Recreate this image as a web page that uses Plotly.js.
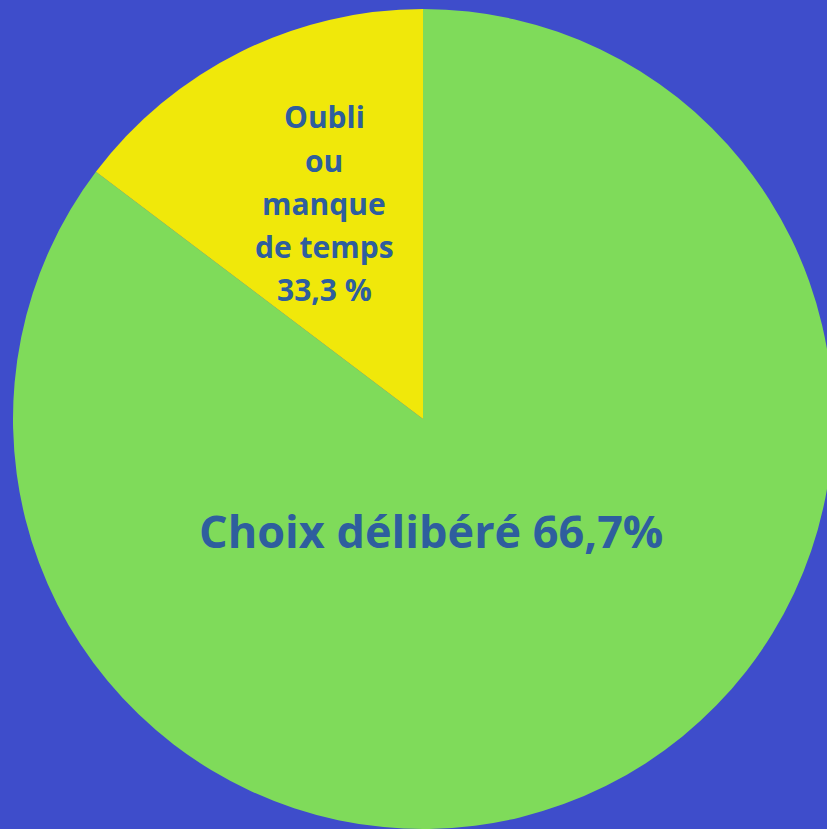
<!DOCTYPE html>
<html>
<head>
<meta charset="utf-8">
<script src="https://cdn.plot.ly/plotly-3.0.1.min.js"></script>
<style>
html, body { margin: 0; padding: 0; overflow: hidden; background: #3e4dcb; }
#chart { width: 846px; height: 840px; }
</style>
</head>
<body>
<div id="chart"></div>
<script>
// Categories and values (slice sizes; labels as printed)
const categories = ["Choix délibéré", "Oubli ou manque de temps"];
const sliceValues = [85.3, 14.7];
const sliceColors = ["#7fdb5a", "#f0e80a"];
const labelTexts = ["Choix délibéré 66,7%", "Oubli<br>ou<br>manque<br>de temps<br>33,3 %"];
const labelSizes = [45, 30];

const W = 846, H = 840;
const trace = {
  type: "pie",
  labels: categories,
  values: sliceValues,
  sort: false,
  direction: "clockwise",
  rotation: 0,
  marker: { colors: sliceColors, line: { width: 0 } },
  textinfo: "none",
  hoverinfo: "none",
  showlegend: false,
  domain: { x: [0, 1], y: [1 - 829 / H, 1 - 9 / H] }
};

// label anchor positions (px): centre x, first-line centre y, line step
const labelPos = [[431, 530, 0], [324, 117, 43]];
const annotations = [];
labelTexts.forEach((t, i) => {
  t.split("<br>").forEach((line, j) => {
    annotations.push({
      text: "<b>" + line + "</b>",
      x: labelPos[i][0] / W,
      y: 1 - (labelPos[i][1] + j * labelPos[i][2]) / H,
      xref: "paper", yref: "paper",
      xanchor: "center", yanchor: "middle",
      showarrow: false,
      align: "center",
      font: { family: "Open Sans, sans-serif", size: labelSizes[i], color: "#2e5e9e" }
    });
  });
});

Plotly.newPlot("chart", [trace], {
  width: W, height: H,
  margin: { l: 0, r: 0, t: 0, b: 0 },
  paper_bgcolor: "#3e4dcb",
  plot_bgcolor: "#3e4dcb",
  annotations: annotations
}, { displayModeBar: false, staticPlot: true });
</script>
</body>
</html>
